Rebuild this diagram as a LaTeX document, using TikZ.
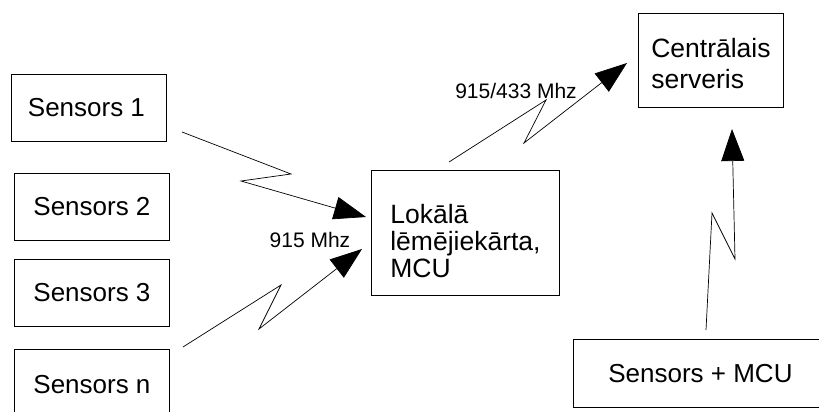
\documentclass[tikz,border=0pt]{standalone}
\usepackage{fontspec}
\setmainfont{Liberation Sans}
\usetikzlibrary{arrows.meta}
\begin{document}
\begin{tikzpicture}[x=1pt,y=-1pt,
  box/.style={draw, line width=0.9pt, rectangle, inner sep=0pt, anchor=north west,
    font=\fontsize{26}{26}\selectfont, align=center},
  radio/.style={line width=0.7pt, line join=miter, -{Triangle[length=32pt,width=23pt]}},
  freq/.style={font=\fontsize{21}{24}\selectfont, inner sep=0pt}]
\useasboundingbox (0,0) rectangle (819,412);

% sensor boxes
\node[box, minimum width=155pt, minimum height=67pt] (s1) at (11,74) {Sensors 1\hspace*{5pt}};
\node[box, minimum width=155pt, minimum height=67pt] (s2) at (14,173) {Sensors 2};
\node[box, minimum width=155pt, minimum height=67pt] (s3) at (14,259) {Sensors 3};
\node[box, minimum width=155pt, minimum height=70pt] (sn) at (14,349) {Sensors n};

% local controller and central server (text blocks sit a little below centre)
\node[box, minimum width=188pt, minimum height=125pt] (mcu) at (371,170)
  {\raisebox{-12pt}[\height][\depth]{\fontsize{26.5}{27}\selectfont
   \begin{tabular}{@{}l@{}}Lokālā\\lēmējiekārta,\\MCU\end{tabular}}};
\node[box, minimum width=145pt, minimum height=94pt] (srv) at (638,13)
  {\raisebox{-6pt}[\height][\depth]{\fontsize{26.5}{31}\selectfont
   \begin{tabular}{@{}l@{}}Centrālais\\serveris\end{tabular}}};
\node[box, minimum width=254pt, minimum height=68pt] (smcu) at (573,339) {Sensors + MCU};

% radio link break points
\coordinate (a1s) at (182,132);
\coordinate (a1p) at (291,174);
\coordinate (a1q) at (241,181);
\coordinate (a1e) at (366,217);

\coordinate (a2s) at (183,347);
\coordinate (a2p) at (281,285);
\coordinate (a2q) at (259,329);
\coordinate (a2e) at (362,249);

\coordinate (a3s) at (449,162);
\coordinate (a3p) at (546,100);
\coordinate (a3q) at (524,143);
\coordinate (a3e) at (627,63);

\coordinate (a4s) at (706,330);
\coordinate (a4p) at (712,213);
\coordinate (a4q) at (735,259);
\coordinate (a4e) at (732,129);

% radio links
\draw[radio] (a1s) -- (a1p) -- (a1q) -- (a1e);
\draw[radio] (a2s) -- (a2p) -- (a2q) -- (a2e);
\draw[radio] (a3s) -- (a3p) -- (a3q) -- (a3e);
\draw[radio] (a4s) -- (a4p) -- (a4q) -- (a4e);

% frequency labels
\node[freq] (f1) at (310,240) {915 Mhz};
\node[freq] (f2) at (516,91) {915/433 Mhz};
\end{tikzpicture}
\end{document}
